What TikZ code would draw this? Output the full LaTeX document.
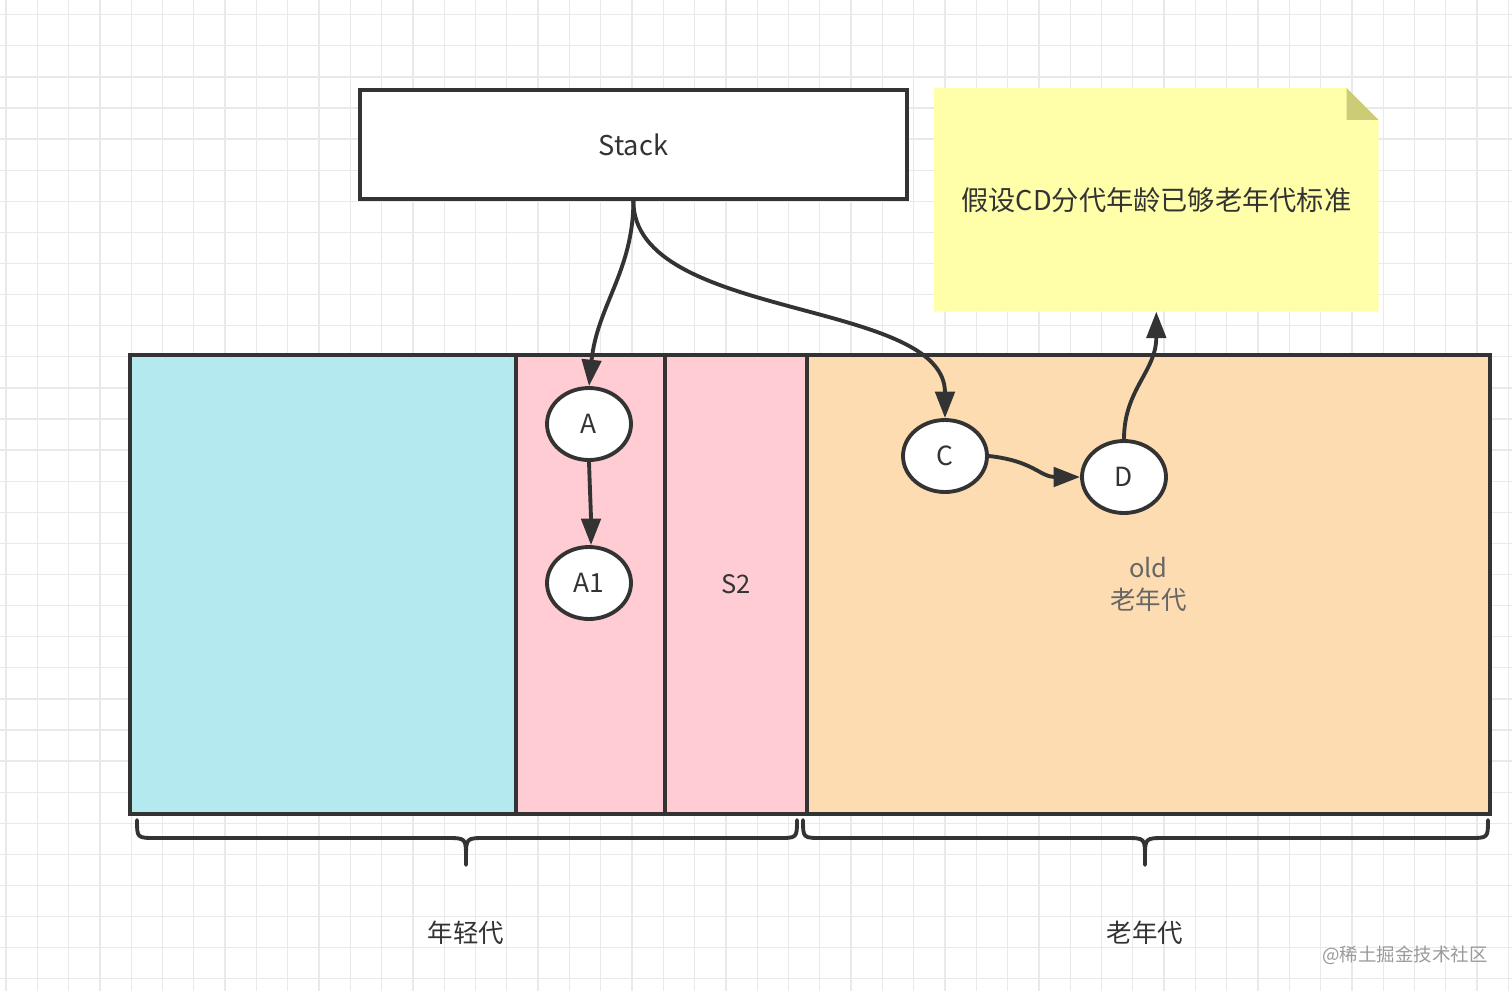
\documentclass[tikz,border=0pt]{standalone}
\usepackage{fontspec}
\setmainfont{Noto Sans CJK SC}
\usetikzlibrary{shapes.geometric,arrows.meta,backgrounds}
\definecolor{gcgrid}{HTML}{E9E9E9}
\definecolor{gcline}{HTML}{333333}
\definecolor{gceden}{HTML}{B3E9EF}
\definecolor{gcsurv}{HTML}{FFCCD3}
\definecolor{gcold}{HTML}{FDDCB1}
\definecolor{gcnote}{HTML}{FFFFAA}
\definecolor{gcfold}{HTML}{CCCC77}
\definecolor{gctext}{HTML}{333333}
\definecolor{gcmuted}{HTML}{666666}
\definecolor{gcmark}{HTML}{9A9A9A}

\begin{document}
\begin{tikzpicture}[x=0.02cm, y=-0.02cm,
    region/.style={draw=gcline, line width=2.2pt, anchor=north west, inner sep=0pt,
                   minimum height=9.18cm, text=gctext, align=center,
                   font=\fontsize{14.5}{18}\selectfont},
    stackbox/.style={region, fill=white, minimum height=2.18cm, minimum width=10.94cm,
                     font=\fontsize{15.5}{18}\selectfont},
    obj/.style={ellipse, draw=gcline, line width=2.2pt, fill=white, inner sep=0pt,
                minimum width=1.68cm, minimum height=1.44cm, text=gctext,
                font=\fontsize{15}{18}\selectfont},
    arrow/.style={-{Triangle[length=15pt, width=11pt]}, draw=gcline, line width=2.2pt},
    brace/.style={draw=gcline, line width=2.2pt, line cap=round},
    caption/.style={text=gctext, font=\fontsize{14.5}{18}\selectfont}
  ]
    \useasboundingbox (0,0) rectangle (1512,991);

    % grid paper
    \begin{scope}[on background layer]
      \fill[white] (0,0) rectangle (1512,991);
      \foreach \i in {0,...,48}
        \draw[gcgrid, line width=0.7pt] (6+\i*31.3,0) -- ++(0,991);
      \foreach \j in {0,...,31}
        \draw[gcgrid, line width=0.7pt] (0,14.7+\j*31.1) -- ++(1512,0);
    \end{scope}

    % heap
    \node[region, fill=gceden, minimum width=7.72cm]  (eden) at (128,353) {};
    \node[region, fill=gcsurv, minimum width=2.98cm]  (s1)   at (514,353) {};
    \node[region, fill=gcsurv, minimum width=2.84cm]  (s2)   at (663,353) {S2};
    \node[region, fill=gcold,  minimum width=13.66cm, text=gcmuted] (old) at (805,353) {old\\老年代};

    \node[stackbox] (stack) at (358,88) {Stack};

    % sticky note
    \node[caption, font=\fontsize{15.5}{18}\selectfont, anchor=north west,
          minimum width=8.88cm, minimum height=4.46cm, inner sep=0pt]
      (note) at (934,88) {假设CD分代年龄已够老年代标准};
    \begin{scope}[on background layer]
      \fill[gcnote] (note.south west) -- (note.north west) -- ([xshift=-0.64cm]note.north east)
        -- ([yshift=-0.64cm]note.north east) -- (note.south east) -- cycle;
      \fill[gcfold] ([xshift=-0.64cm]note.north east) -- ([xshift=-0.64cm,yshift=-0.64cm]note.north east)
        -- ([yshift=-0.64cm]note.north east) -- cycle;
    \end{scope}

    % objects
    \node[obj] (a)  at (589,424) {A};
    \node[obj] (a1) at (589,583) {A1};
    \node[obj] (c)  at (945,456) {C};
    \node[obj] (d)  at (1124,477) {D};

    \draw[arrow] (stack.south) .. controls +(0,70) and +(8,-80) .. (a.north);
    \draw[arrow] (stack.south) .. controls +(0,120) and +(0,-120) .. (c.north);
    \draw[arrow] (a.south) .. controls +(1,30) and +(0,-30) .. ([xshift=0.04cm]a1.north);
    \draw[arrow] (c.east) .. controls +(45,5) and +(-40,0) .. (d.west);
    \draw[arrow] (d.north) .. controls +(0,-50) and +(0,60) .. (note.south);

    % braces
    \draw[brace] (137,820) .. controls (137,838) .. (156,838) -- (446,838)
      .. controls (466,838) .. (466,858) -- (466,865);
    \draw[brace] (466,858) .. controls (466,838) .. (486,838) -- (778,838)
      .. controls (797,838) .. (797,820);
    \draw[brace] (803,820) .. controls (803,838) .. (822,838) -- (1125,838)
      .. controls (1145,838) .. (1145,858) -- (1145,865);
    \draw[brace] (1145,858) .. controls (1145,838) .. (1165,838) -- (1469,838)
      .. controls (1488,838) .. (1488,820);

    \node[caption] (young) at (466,933) {年轻代};
    \node[caption] (tenured) at (1145,933) {老年代};

    \node[text=gcmark, font=\fontsize{10.5}{12}\selectfont] (mark) at (1405,955) {@稀土掘金技术社区};
\end{tikzpicture}
\end{document}
